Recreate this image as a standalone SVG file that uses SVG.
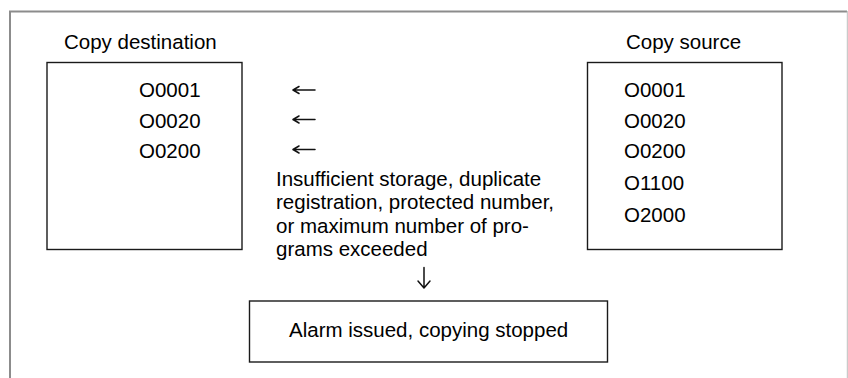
<svg xmlns="http://www.w3.org/2000/svg" width="848" height="378" viewBox="0 0 848 378">
  <style>
    text { font-family: "Liberation Sans", Arial, sans-serif; font-size: 20.5px; fill: #000; }
    .box { fill: #fff; stroke: #1a1a1a; stroke-width: 1.4; }
    .frame { fill: none; stroke: #8c8c8c; stroke-width: 2; }
    .arrow { fill: none; stroke: #111; stroke-width: 1.5; stroke-linecap: round; stroke-linejoin: round; }
  </style>
  <rect width="848" height="378" fill="#fff"/>
  <path class="frame" d="M10,380 V11.5 H847"/>
  <line x1="847.3" y1="11" x2="847.3" y2="380" stroke="#bdbdbd" stroke-width="1"/>

  <g id="dest">
    <text x="64" y="49">Copy destination</text>
    <rect class="box" x="47" y="62.5" width="195" height="187"/>
    <text x="139" y="97">O0001</text>
    <text x="139" y="128">O0020</text>
    <text x="139" y="158">O0200</text>
  </g>

  <g id="source">
    <text x="626" y="49">Copy source</text>
    <rect class="box" x="587.5" y="62.5" width="194.5" height="187"/>
    <text x="624" y="97">O0001</text>
    <text x="624" y="128">O0020</text>
    <text x="624" y="158">O0200</text>
    <text x="624" y="190">O1100</text>
    <text x="624" y="221.5">O2000</text>
  </g>

  <g id="connectors">
    <path class="arrow" d="M293,90 H315 M299,86.5 L293,90 L299,93.5"/>
    <path class="arrow" d="M293,119.5 H315 M299,116 L293,119.5 L299,123"/>
    <path class="arrow" d="M293,149.5 H315 M299,146 L293,149.5 L299,153"/>
    <path class="arrow" d="M424,267.5 V288 M418,281 L424,288 L430,281"/>
  </g>

  <g id="condition">
    <text x="276" y="186">Insufficient storage, duplicate</text>
    <text x="276" y="209">registration, protected number,</text>
    <text x="276" y="232.5">or maximum number of pro-</text>
    <text x="276" y="256">grams exceeded</text>
  </g>

  <g id="alarm">
    <rect class="box" x="249.5" y="301" width="358" height="61"/>
    <text x="289" y="337">Alarm issued, copying stopped</text>
  </g>
</svg>
